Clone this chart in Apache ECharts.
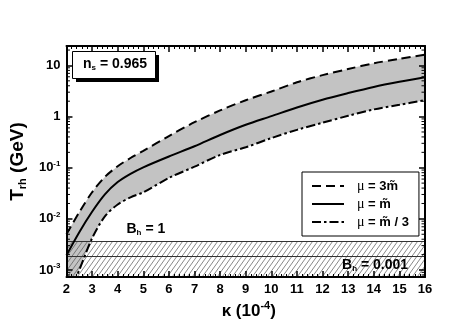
<!DOCTYPE html>
<html><head><meta charset="utf-8">
<script src="https://cdn.jsdelivr.net/npm/echarts@6/dist/echarts.min.js"></script>
<style>html,body{margin:0;padding:0;background:#fff}#c{width:471px;height:327px}</style>
</head><body><div id="c"></div><script>
// ---- data ----
const kappa   = [2, 2.5, 3, 3.5, 4, 4.5, 5, 6, 7, 8, 9, 10, 11, 12, 13, 14, 15, 16];
const trhHigh = [0.0050, 0.0135, 0.0331, 0.0661, 0.107, 0.155, 0.214, 0.417, 0.776, 1.32, 2.09, 3.09, 4.68, 6.46, 8.51, 11.0, 13.5, 16.2]; // mu = 3 m~
const trhMid  = [0.00195, 0.0055, 0.0138, 0.0302, 0.0525, 0.0759, 0.102, 0.166, 0.263, 0.437, 0.692, 1.02, 1.51, 2.14, 2.88, 3.80, 4.79, 5.89]; // mu = m~
const trhLow  = [0.00025, 0.00100, 0.00417, 0.0112, 0.0191, 0.0263, 0.0331, 0.0631, 0.105, 0.178, 0.251, 0.380, 0.550, 0.759, 1.035, 1.38, 1.70, 2.09]; // mu = m~/3
const bhLevels = [0.00365, 0.0019];          // B_h = 1, B_h = 0.001
const bhLabels = ['1', '0.001'];
const bhLabelPos = [[5.1, 0.0064], [14.05, 0.00127]];
const xTicks = [2,3,4,5,6,7,8,9,10,11,12,13,14,15,16];
const yTickLabels = {'1': '10', '0': '1', '-1': '10^-1', '-2': '10^-2', '-3': '10^-3'};
const nsValue = '0.965';
const seriesNames = ['mu3', 'mu1', 'mu13'];
const legendTexts = {mu3: ' = 3m\u0303', mu1: ' = m\u0303', mu13: ' = m\u0303 / 3'};

const xMin = 2, xMax = 16, yMin = 0.00073, yMax = 24;
const sans = '"Liberation Sans", Arial, Helvetica, sans-serif';
const serif = '"Liberation Serif", "Times New Roman", serif';

// hatch pattern
const pc = document.createElement('canvas');
pc.width = 5; pc.height = 7;
const g = pc.getContext('2d');
g.strokeStyle = '#555'; g.lineWidth = 0.7;
g.beginPath();
g.moveTo(0, 7); g.lineTo(5, 0);
g.moveTo(-1, 1.4); g.lineTo(1, -1.4);
g.moveTo(4, 8.4); g.lineTo(6, 5.6);
g.stroke();

// log minor tick values
const minorVals = [];
for (let e = -4; e <= 1; e++) for (let m = 2; m <= 9; m++) {
  const v = m * Math.pow(10, e);
  if (v > yMin && v < yMax) minorVals.push(v);
}

const pairs = ys => kappa.map((k, i) => [k, ys[i]]);
const supRich = {
  b: {fontFamily: sans, fontWeight: 'bold', fontSize: 13, color: '#000'},
  s: {fontFamily: sans, fontWeight: 'bold', fontSize: 8, color: '#000', padding: [0, 0, 8, 0]}
};
function yFmt(v) {
  const e = Math.log10(v), r = Math.round(e);
  if (Math.abs(e - r) > 1e-6) return '';
  const t = yTickLabels[String(r)];
  if (!t) return '';
  if (t.indexOf('^') < 0) return '{b|' + t + '}';
  const p = t.split('^');
  return '{b|' + p[0] + '}{s|' + p[1] + '}';
}

const axisCommon = {
  axisLine: {show: true, onZero: false, lineStyle: {color: '#000', width: 2}},
  splitLine: {show: false},
  z: 10
};

const chart = echarts.init(document.getElementById('c'), null, {renderer: 'canvas'});
chart.setOption({
  animation: false,
  backgroundColor: '#fff',
  grid: {left: 66, right: 46, top: 46, bottom: 50},
  graphic: [
    // n_s box with hard shadow
    {type: 'rect', left: 76, top: 55, shape: {width: 83, height: 27}, style: {fill: '#000'}, z: 20},
    {type: 'rect', left: 72, top: 51, shape: {width: 83, height: 27}, style: {fill: '#fff', stroke: '#000', lineWidth: 1}, z: 21},
    {type: 'text', left: 83, top: 57, z: 22, style: {
      text: '{n|n}{s|s}{n| = ' + nsValue + '}',
      rich: {
        n: {fontFamily: sans, fontWeight: 'bold', fontSize: 14, fill: '#000'},
        s: {fontFamily: sans, fontWeight: 'bold', fontSize: 8, fill: '#000', padding: [8, 0, 0, 0]}
      }}},
    // legend hard shadow
    {type: 'rect', left: 306, top: 176, shape: {width: 116, height: 63}, style: {fill: '#000'}, z: 1}
  ],
  legend: {
    data: seriesNames,
    orient: 'vertical', left: 302, top: 172,
    padding: [7, 10, 7, 9],
    itemWidth: 32, itemHeight: 14, itemGap: 4,
    backgroundColor: '#fff', borderColor: '#000', borderWidth: 1,
    itemStyle: {color: 'rgba(0,0,0,0)', borderWidth: 0, opacity: 0},
    formatter: n => '{mu|\u03bc}{t|' + legendTexts[n] + '}',
    textStyle: {
      padding: [0, 0, 0, 8],
      rich: {
        mu: {fontFamily: serif, fontSize: 14, color: '#000'},
        t: {fontFamily: sans, fontWeight: 'bold', fontSize: 13, color: '#000'}
      }
    },
    selectedMode: false
  },
  xAxis: [
    Object.assign({}, axisCommon, {
      type: 'value', min: xMin, max: xMax, interval: 1, position: 'bottom',
      axisTick: {show: true, inside: true, length: 6, lineStyle: {color: '#000', width: 1.5}},
      minorTick: {show: true, splitNumber: 5, length: 3, lineStyle: {color: '#000', width: 1}},
      axisLabel: {margin: 6, fontFamily: sans, fontWeight: 'bold', fontSize: 13, color: '#000',
        formatter: v => (xTicks.indexOf(v) >= 0 ? String(v) : '')},
      name: '{b|\u03ba (10}{s|-4}{b|)}',
      nameLocation: 'middle', nameGap: 23,
      nameTextStyle: {padding: [0, 0, 0, 6], rich: {
        b: {fontFamily: sans, fontWeight: 'bold', fontSize: 17, color: '#000'},
        s: {fontFamily: sans, fontWeight: 'bold', fontSize: 11, color: '#000', padding: [0, 0, 10, 0]}
      }}
    }),
    Object.assign({}, axisCommon, {
      type: 'value', min: xMin, max: xMax, interval: 1, position: 'top',
      axisTick: {show: true, inside: true, length: 6, lineStyle: {color: '#000', width: 1.5}},
      minorTick: {show: true, splitNumber: 5, length: 3, lineStyle: {color: '#000', width: 1}},
      axisLabel: {show: false}
    })
  ],
  yAxis: [
    Object.assign({}, axisCommon, {
      type: 'log', logBase: 10, min: yMin, max: yMax, position: 'left',
      axisTick: {show: true, inside: true, length: 6, lineStyle: {color: '#000', width: 1.5}},
      axisLabel: {margin: 6, formatter: yFmt, rich: supRich, showMinLabel: true, showMaxLabel: true},
      name: '{b|T}{s|rh}{b| (GeV)}',
      nameLocation: 'middle', nameGap: 30, nameRotate: 90,
      nameTextStyle: {rich: {
        b: {fontFamily: sans, fontWeight: 'bold', fontSize: 19, color: '#000'},
        s: {fontFamily: sans, fontWeight: 'bold', fontSize: 11, color: '#000', padding: [10, 0, 0, 0]}
      }}
    }),
    Object.assign({}, axisCommon, {
      type: 'log', logBase: 10, min: yMin, max: yMax, position: 'right',
      axisTick: {show: true, inside: true, length: 6, lineStyle: {color: '#000', width: 1.5}},
      axisLabel: {show: false}
    })
  ],
  series: [
    {type: 'line', name: 'bandUpper', data: pairs(trhHigh), smooth: 0.3, symbol: 'none', silent: true,
      lineStyle: {width: 0}, areaStyle: {color: '#c3c3c3', opacity: 1, origin: 'start'}, z: 1},
    {type: 'line', name: 'bandLower', data: pairs(trhLow), smooth: 0.3, symbol: 'none', silent: true,
      lineStyle: {width: 0}, areaStyle: {color: '#fff', opacity: 1, origin: 'start'}, z: 2},
    {type: 'custom', name: 'hatchArea', silent: true, z: 3, clip: true,
      data: [[xMin, yMin, xMax, bhLevels[0]]],
      renderItem: (params, api) => {
        const p0 = api.coord([api.value(0), api.value(1)]);
        const p1 = api.coord([api.value(2), api.value(3)]);
        return {type: 'rect',
          shape: {x: p0[0], y: p1[1], width: p1[0] - p0[0], height: p0[1] - p1[1]},
          style: {fill: {image: pc, repeat: 'repeat'}, stroke: null}};
      }},
    {type: 'line', name: 'hatch', data: [[xMin, yMin], [xMax, yMin]], z: 4, silent: true, symbol: 'none',
      lineStyle: {width: 0, opacity: 0},
      markLine: {silent: true, symbol: 'none', label: {show: false},
        lineStyle: {color: '#333', width: 1, type: 'solid'},
        data: bhLevels.map(v => [{coord: [xMin, v]}, {coord: [xMax, v]}])},
      markPoint: {silent: true, symbol: 'rect', symbolSize: 0,
        label: {show: true, position: 'inside',
          rich: {
            b: {fontFamily: sans, fontWeight: 'bold', fontSize: 14, color: '#000'},
            s: {fontFamily: sans, fontWeight: 'bold', fontSize: 8, color: '#000', padding: [9, 0, 0, 0]}
          }},
        data: bhLabels.map((t, i) => ({coord: bhLabelPos[i],
          label: {formatter: '{b|B}{s|h}{b| = ' + t + '}'}}))}
    },
    {type: 'custom', name: 'minorY', silent: true, z: 11,
      data: minorVals.map(v => [xMin, v]),
      renderItem: (params, api) => {
        const v = api.value(1);
        const pl = api.coord([xMin, v]), pr = api.coord([xMax, v]);
        return {type: 'group', children: [
          {type: 'line', shape: {x1: pl[0], y1: pl[1], x2: pl[0] + 3.5, y2: pl[1]}, style: {stroke: '#000', lineWidth: 1}},
          {type: 'line', shape: {x1: pr[0], y1: pr[1], x2: pr[0] - 3.5, y2: pr[1]}, style: {stroke: '#000', lineWidth: 1}}
        ]};
      }},
    {type: 'line', name: 'mu3', data: pairs(trhHigh), smooth: 0.3, symbol: 'none', z: 5,
      lineStyle: {color: '#000', width: 2, type: [9, 5]}, itemStyle: {color: '#000'}},
    {type: 'line', name: 'mu1', data: pairs(trhMid), smooth: 0.3, symbol: 'none', z: 5,
      lineStyle: {color: '#000', width: 2, type: 'solid'}, itemStyle: {color: '#000'}},
    {type: 'line', name: 'mu13', data: pairs(trhLow), smooth: 0.3, symbol: 'none', z: 5,
      lineStyle: {color: '#000', width: 2, type: [9, 3, 2.5, 3]}, itemStyle: {color: '#000'}}
  ]
});
</script></body></html>
